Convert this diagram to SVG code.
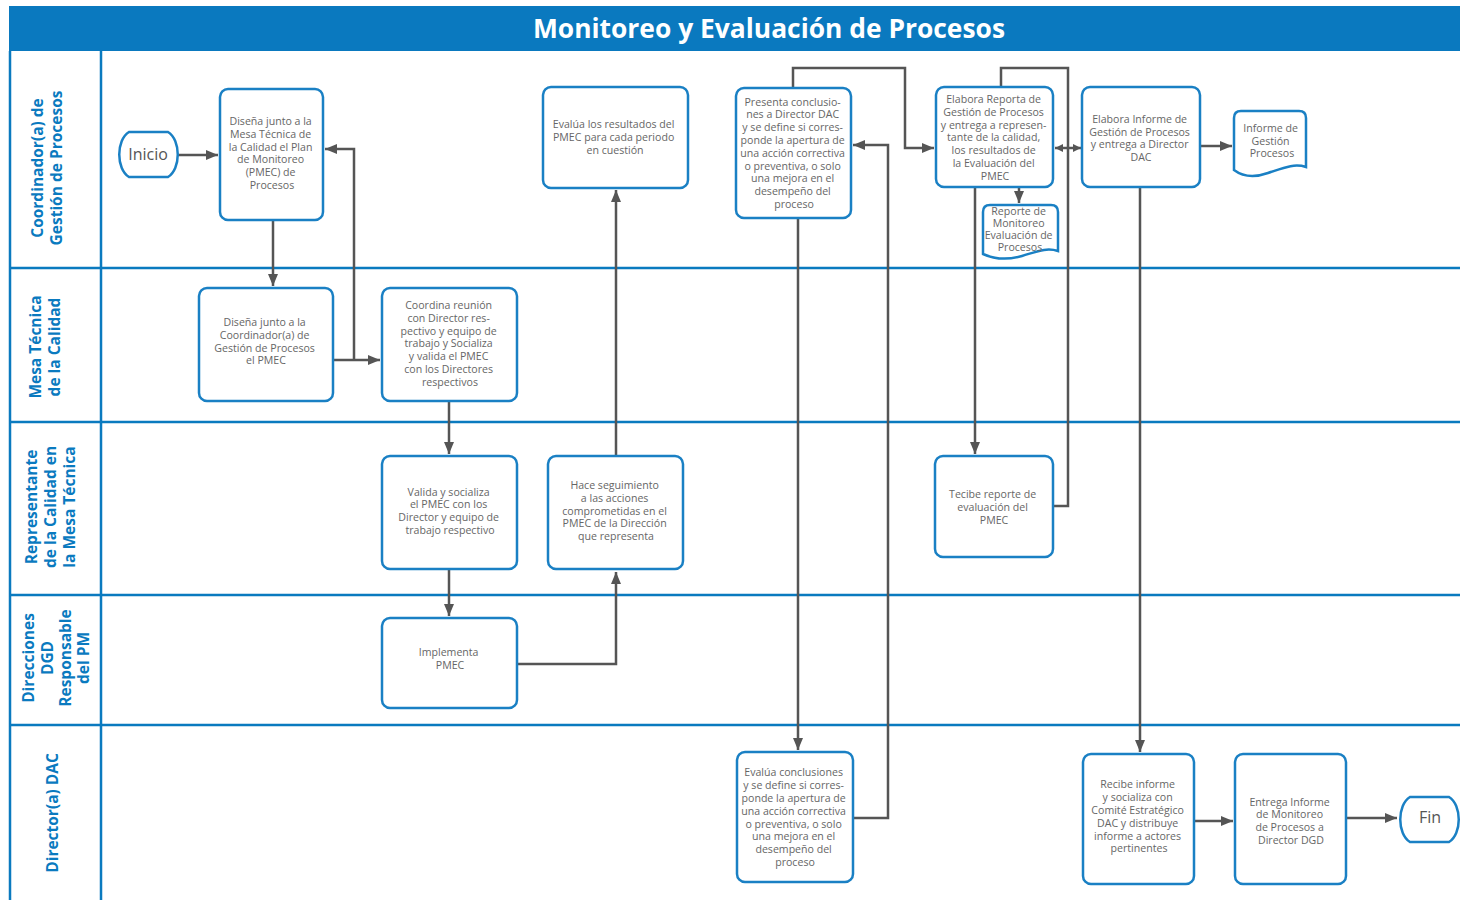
<svg xmlns="http://www.w3.org/2000/svg" width="1460" height="900" viewBox="0 0 1460 900">
  <style>
    .lane { fill: none; stroke: #0a7abf; stroke-width: 2.5; }
    .lbl { font-family: "Open Sans", "Liberation Sans", sans-serif; font-weight: bold; font-size: 15.5px; fill: #0a7abf; text-anchor: middle; }
    .box { fill: #ffffff; stroke: #1a80c4; stroke-width: 2.5; }
    .txt { font-family: "Open Sans", "Liberation Sans", sans-serif; font-size: 10.6px; fill: #666666; text-anchor: middle; }
    .term { font-family: "Open Sans", "Liberation Sans", sans-serif; font-size: 16px; fill: #555555; text-anchor: middle; }
    .con { fill: none; stroke: #555555; stroke-width: 2.5; }
  </style>
  <defs>
    <marker id="arrow" viewBox="0 0 12 10" refX="12" refY="5" markerWidth="12" markerHeight="10" markerUnits="userSpaceOnUse" orient="auto-start-reverse">
      <path d="M0,0 L12,5 L0,10 Z" fill="#555555"/>
    </marker>
    <marker id="arrow-small" viewBox="0 0 8 8" refX="8" refY="4" markerWidth="8" markerHeight="8" markerUnits="userSpaceOnUse" orient="auto-start-reverse">
      <path d="M0,0 L8,4 L0,8 Z" fill="#555555"/>
    </marker>
  </defs>

  <rect width="1460" height="900" fill="#ffffff"/>

  <!-- title bar -->
  <g id="header">
    <rect x="9" y="6" width="1451" height="45" fill="#0a79bf"/>
    <text x="769" y="38" font-family="'Open Sans', 'Liberation Sans', sans-serif" font-weight="bold" font-size="26.4" fill="#ffffff" text-anchor="middle">Monitoreo y Evaluación de Procesos</text>
  </g>

  <!-- swimlanes -->
  <g id="lanes">
    <line class="lane" x1="10" y1="51" x2="10" y2="900"/>
    <line class="lane" x1="101" y1="51" x2="101" y2="900"/>
    <line class="lane" x1="9" y1="268" x2="1460" y2="268"/>
    <line class="lane" x1="9" y1="422" x2="1460" y2="422"/>
    <line class="lane" x1="9" y1="595" x2="1460" y2="595"/>
    <line class="lane" x1="9" y1="725" x2="1460" y2="725"/>
    <text class="lbl" transform="rotate(-90 43 168)" x="43" y="168">Coordinador(a) de</text>
    <text class="lbl" transform="rotate(-90 62 168)" x="62" y="168">Gestión de Procesos</text>
    <text class="lbl" transform="rotate(-90 41 347)" x="41" y="347">Mesa Técnica</text>
    <text class="lbl" transform="rotate(-90 60 347)" x="60" y="347">de la Calidad</text>
    <text class="lbl" transform="rotate(-90 37 507)" x="37" y="507">Representante</text>
    <text class="lbl" transform="rotate(-90 56 507)" x="56" y="507">de la Calidad en</text>
    <text class="lbl" transform="rotate(-90 75 507)" x="75" y="507">la Mesa Técnica</text>
    <text class="lbl" transform="rotate(-90 34 658)" x="34" y="658">Direcciones</text>
    <text class="lbl" transform="rotate(-90 53 658)" x="53" y="658">DGD</text>
    <text class="lbl" transform="rotate(-90 71 658)" x="71" y="658">Responsable</text>
    <text class="lbl" transform="rotate(-90 89 658)" x="89" y="658">del PM</text>
    <text class="lbl" transform="rotate(-90 58 813)" x="58" y="813">Director(a) DAC</text>
  </g>

  <!-- connectors -->
  <g id="connectors">
    <path class="con" d="M178,155 H218" marker-end="url(#arrow)"/>
    <path class="con" d="M273,221 V286" marker-end="url(#arrow)"/>
    <path class="con" d="M334,360 H380" marker-end="url(#arrow)"/>
    <path class="con" d="M354,360 V149 H325" marker-end="url(#arrow)"/>
    <path class="con" d="M449,402 V454" marker-end="url(#arrow)"/>
    <path class="con" d="M449,570 V616" marker-end="url(#arrow)"/>
    <path class="con" d="M518,664 H616 V572" marker-end="url(#arrow)"/>
    <path class="con" d="M616,456 V190" marker-end="url(#arrow)"/>
    <path class="con" d="M793,87 V68 H905 V148 H934" marker-end="url(#arrow)"/>
    <path class="con" d="M798,219 V750" marker-end="url(#arrow)"/>
    <path class="con" d="M854,818 H888 V145 H853" marker-end="url(#arrow)"/>
    <path class="con" d="M975,188 V454" marker-end="url(#arrow)"/>
    <path class="con" d="M1019,188 V203" marker-end="url(#arrow)"/>
    <path class="con" d="M1054,506 H1068 V68 H1001 V86"/>
    <path class="con" d="M1055,148 H1081" marker-start="url(#arrow-small)" marker-end="url(#arrow-small)"/>
    <path class="con" d="M1140,188 V752" marker-end="url(#arrow)"/>
    <path class="con" d="M1201,146 H1232" marker-end="url(#arrow)"/>
    <path class="con" d="M1195,821 H1233" marker-end="url(#arrow)"/>
    <path class="con" d="M1347,818 H1397" marker-end="url(#arrow)"/>
  </g>

  <!-- nodes -->
  <g id="inicio">
    <path class="box" d="M129,132 H168 C181,140 181,169 168,177 H129 C116,169 116,140 129,132 Z"/>
    <text class="term" x="148" y="160">Inicio</text>
  </g>

  <g id="disena-plan">
    <rect class="box" x="220" y="89" width="103" height="131" rx="8"/>
    <text class="txt">
      <tspan x="272" y="125">Diseña junto a la</tspan>
      <tspan x="272" y="138">Mesa Técnica de</tspan>
      <tspan x="272" y="151">la Calidad el Plan</tspan>
      <tspan x="272" y="163">de Monitoreo</tspan>
      <tspan x="272" y="176">(PMEC) de</tspan>
      <tspan x="272" y="189">Procesos</tspan>
    </text>
  </g>

  <g id="evalua-resultados">
    <rect class="box" x="543" y="87" width="145" height="101" rx="8"/>
    <text class="txt">
      <tspan x="615" y="128">Evalúa los resultados del</tspan>
      <tspan x="615" y="141">PMEC para cada periodo</tspan>
      <tspan x="615" y="154">en cuestión</tspan>
    </text>
  </g>

  <g id="presenta-conclusiones">
    <rect class="box" x="736" y="88" width="115" height="130" rx="8"/>
    <text class="txt">
      <tspan x="794" y="106">Presenta conclusio-</tspan>
      <tspan x="794" y="118">nes a Director DAC</tspan>
      <tspan x="794" y="131">y se define si corres-</tspan>
      <tspan x="794" y="144">ponde la apertura de</tspan>
      <tspan x="794" y="157">una acción correctiva</tspan>
      <tspan x="794" y="170">o preventiva, o solo</tspan>
      <tspan x="794" y="182">una mejora en el</tspan>
      <tspan x="794" y="195">desempeño del</tspan>
      <tspan x="794" y="208">proceso</tspan>
    </text>
  </g>

  <g id="elabora-reporte">
    <rect class="box" x="936" y="87" width="117" height="100" rx="8"/>
    <text class="txt">
      <tspan x="995" y="103">Elabora Reporta de</tspan>
      <tspan x="995" y="116">Gestión de Procesos</tspan>
      <tspan x="995" y="129">y entrega a represen-</tspan>
      <tspan x="995" y="141">tante de la calidad,</tspan>
      <tspan x="995" y="154">los resultados de</tspan>
      <tspan x="995" y="167">la Evaluación del</tspan>
      <tspan x="995" y="180">PMEC</tspan>
    </text>
  </g>

  <g id="reporte-monitoreo">
    <path class="box" d="M983,212 Q983,205 990,205 H1051 Q1058,205 1058,212 V251 C1046,247 1036,252 1022,256 C1008,260 994,259 983,254 Z"/>
    <text class="txt" font-size="10.2">
      <tspan x="1020" y="215">Reporte de</tspan>
      <tspan x="1020" y="227">Monitoreo</tspan>
      <tspan x="1020" y="239">Evaluación de</tspan>
      <tspan x="1020" y="251">Procesos</tspan>
    </text>
  </g>

  <g id="elabora-informe">
    <rect class="box" x="1082" y="87" width="118" height="100" rx="8"/>
    <text class="txt">
      <tspan x="1141" y="123">Elabora Informe de</tspan>
      <tspan x="1141" y="136">Gestión de Procesos</tspan>
      <tspan x="1141" y="148">y entrega a Director</tspan>
      <tspan x="1141" y="161">DAC</tspan>
    </text>
  </g>

  <g id="informe-gestion">
    <path class="box" d="M1234,118 Q1234,111 1241,111 H1299 Q1306,111 1306,118 V167 C1294,163 1283,168 1268,173 C1254,178 1242,176 1234,170 Z"/>
    <text class="txt">
      <tspan x="1272" y="132">Informe de</tspan>
      <tspan x="1272" y="145">Gestión</tspan>
      <tspan x="1272" y="157">Procesos</tspan>
    </text>
  </g>

  <g id="disena-pmec">
    <rect class="box" x="199" y="288" width="134" height="113" rx="8"/>
    <text class="txt">
      <tspan x="266" y="326">Diseña junto a la</tspan>
      <tspan x="266" y="339">Coordinador(a) de</tspan>
      <tspan x="266" y="352">Gestión de Procesos</tspan>
      <tspan x="266" y="364">el PMEC</tspan>
    </text>
  </g>

  <g id="coordina-reunion">
    <rect class="box" x="382" y="288" width="135" height="113" rx="8"/>
    <text class="txt">
      <tspan x="450" y="309">Coordina reunión</tspan>
      <tspan x="450" y="322">con Director res-</tspan>
      <tspan x="450" y="335">pectivo y equipo de</tspan>
      <tspan x="450" y="347">trabajo y Socializa</tspan>
      <tspan x="450" y="360">y valida el PMEC</tspan>
      <tspan x="450" y="373">con los Directores</tspan>
      <tspan x="450" y="386">respectivos</tspan>
    </text>
  </g>

  <g id="valida-socializa">
    <rect class="box" x="382" y="456" width="135" height="113" rx="8"/>
    <text class="txt">
      <tspan x="450" y="496">Valida y socializa</tspan>
      <tspan x="450" y="508">el PMEC con los</tspan>
      <tspan x="450" y="521">Director y equipo de</tspan>
      <tspan x="450" y="534">trabajo respectivo</tspan>
    </text>
  </g>

  <g id="hace-seguimiento">
    <rect class="box" x="548" y="456" width="135" height="113" rx="8"/>
    <text class="txt">
      <tspan x="616" y="489">Hace seguimiento</tspan>
      <tspan x="616" y="502">a las acciones</tspan>
      <tspan x="616" y="515">comprometidas en el</tspan>
      <tspan x="616" y="527">PMEC de la Dirección</tspan>
      <tspan x="616" y="540">que representa</tspan>
    </text>
  </g>

  <g id="recibe-reporte">
    <rect class="box" x="935" y="456" width="118" height="101" rx="8"/>
    <text class="txt">
      <tspan x="994" y="498">Tecibe reporte de</tspan>
      <tspan x="994" y="511">evaluación  del</tspan>
      <tspan x="994" y="524">PMEC</tspan>
    </text>
  </g>

  <g id="implementa">
    <rect class="box" x="382" y="618" width="135" height="90" rx="8"/>
    <text class="txt">
      <tspan x="450" y="656">Implementa</tspan>
      <tspan x="450" y="669">PMEC</tspan>
    </text>
  </g>

  <g id="evalua-conclusiones">
    <rect class="box" x="737" y="752" width="116" height="130" rx="8"/>
    <text class="txt">
      <tspan x="795" y="776">Evalúa conclusiones</tspan>
      <tspan x="795" y="789">y se define si corres-</tspan>
      <tspan x="795" y="802">ponde la apertura de</tspan>
      <tspan x="795" y="815">una acción correctiva</tspan>
      <tspan x="795" y="828">o preventiva, o solo</tspan>
      <tspan x="795" y="840">una mejora en el</tspan>
      <tspan x="795" y="853">desempeño del</tspan>
      <tspan x="795" y="866">proceso</tspan>
    </text>
  </g>

  <g id="recibe-informe">
    <rect class="box" x="1083" y="754" width="111" height="130" rx="8"/>
    <text class="txt">
      <tspan x="1139" y="788">Recibe informe</tspan>
      <tspan x="1139" y="801">y socializa con</tspan>
      <tspan x="1139" y="814">Comité Estratégico</tspan>
      <tspan x="1139" y="827">DAC y distribuye</tspan>
      <tspan x="1139" y="840">informe a actores</tspan>
      <tspan x="1139" y="852">pertinentes</tspan>
    </text>
  </g>

  <g id="entrega-informe">
    <rect class="box" x="1235" y="754" width="111" height="130" rx="8"/>
    <text class="txt">
      <tspan x="1291" y="806">Entrega Informe</tspan>
      <tspan x="1291" y="818">de Monitoreo</tspan>
      <tspan x="1291" y="831">de Procesos a</tspan>
      <tspan x="1291" y="844">Director DGD</tspan>
    </text>
  </g>

  <g id="fin">
    <path class="box" d="M1410,797 H1449 C1462,805 1462,834 1449,842 H1410 C1397,834 1397,805 1410,797 Z"/>
    <text class="term" x="1430" y="823">Fin</text>
  </g>
</svg>
